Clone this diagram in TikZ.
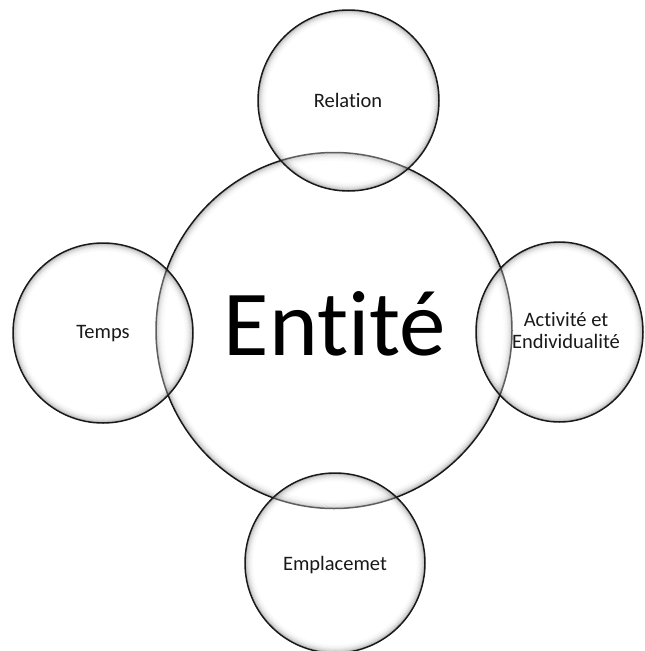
\documentclass[tikz,border=0pt]{standalone}
\usepackage{fontspec}
\setmainfont{Carlito}[Ligatures={NoCommon,NoContextual}]
\usetikzlibrary{shapes.geometric}
\begin{document}
\begin{tikzpicture}[x=1pt,y=-1pt,
  ringline/.style={draw=black!90,line width=1.5pt},
  bubble/.style={circle,inner sep=0pt,ringline},
  oval/.style={ellipse,inner sep=0pt,ringline},
  smalltext/.style={font=\fontsize{20.5}{22}\selectfont,anchor=base,align=center,text=black!90},
  bigtext/.style={font=\fontsize{93}{100}\selectfont,anchor=base,text=black}]
\useasboundingbox (0,0) rectangle (645,651);
\fill[white] (0,0) rectangle (645,651);

% soft inner shading along the rim of an ellipse
\newcommand{\rimglow}[3]{%
  \fill[white,fill opacity=0.3] #1 ellipse [x radius=#2,y radius=#3];
  \foreach \k/\op in {1/0.24,2.2/0.15,3.4/0.10,4.6/0.065,6/0.04,7.5/0.02}
    \draw[black,opacity=\op,line width=1.3pt] #1 ellipse [x radius=#2-\k,y radius=#3-\k];
}

% central entity
\rimglow{(334,330.5)}{178}{178}
\node[bubble,minimum size=356pt] (entite) at (334,330.5) {};

% left: Temps
\rimglow{(103,333)}{90}{90}
\node[bubble,minimum size=180pt] (temps) at (103,333) {};

% top: Relation
\rimglow{(348.5,100.5)}{90.5}{90.5}
\node[bubble,minimum size=181pt] (relation) at (348.5,100.5) {};

% right: Activité et Endividualité
\rimglow{(559.5,332)}{83.5}{90}
\node[oval,minimum width=167pt,minimum height=180pt] (activite) at (559.5,332) {};

% bottom: Emplacemet
\rimglow{(335,563)}{90}{90}
\node[bubble,minimum size=180pt] (emplacement) at (335,563) {};

% labels
\node[bigtext] (tentite) at (335,355) {Entité};
\node[smalltext] (trelation) at (348,107) {Relation};
\node[smalltext] (ttemps) at (103,338) {Temps};
\node[smalltext] (templacement) at (335,570) {Emplacemet};
\node[smalltext] (tactivite1) at (566,326) {Activité et};
\node[smalltext] (tactivite2) at (566,348) {Endividualité};
\end{tikzpicture}
\end{document}
